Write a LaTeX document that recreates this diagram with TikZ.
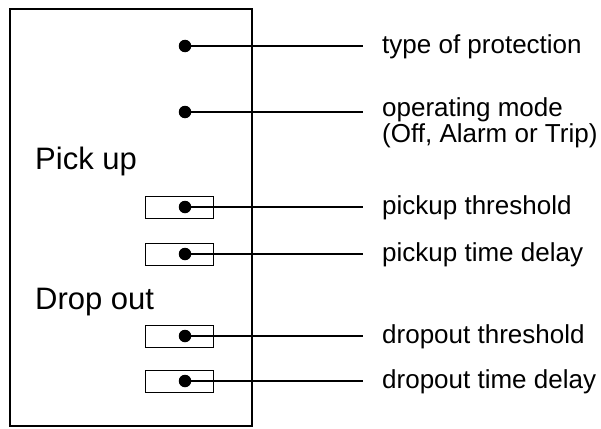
\documentclass[tikz,border=0pt]{standalone}
\usepackage{fontspec}
\setmainfont{Liberation Sans}
\usetikzlibrary{positioning}

\begin{document}
\begin{tikzpicture}[
  x=1pt,y=-1pt,
  every node/.style={font=\fontsize{26}{23.5}\selectfont},
  head/.style={anchor=base west,inner sep=0pt,font=\fontsize{31}{33}\selectfont},
  slot/.style={draw,line width=0.8pt,minimum width=68pt,minimum height=22pt,inner sep=0pt},
  pin/.style={circle,fill,inner sep=0pt,minimum size=12.5pt},
  lbl/.style={anchor=base west,align=left,inner xsep=19pt,inner ysep=0pt},
  wire/.style={line width=2pt}
]
  \useasboundingbox (0,0) rectangle (601,428);
  \draw[line width=2pt] (10,9) rectangle (252,426);
  \node[head] (pick) at (35,169) {Pick up};
  \node[head] (drop) at (35,309) {Drop out};
  % setting slots
  \node[slot] (s3) at (179,207) {};
  \node[slot] (s4) at (179,254) {};
  \node[slot] (s5) at (179,336) {};
  \node[slot] (s6) at (179,381) {};
  % pins
  \node[pin] (p1) at (185,46) {};
  \node[pin] (p2) at (185,112) {};
  \node[pin] (p3) at (185,207) {};
  \node[pin] (p4) at (185,254) {};
  \node[pin] (p5) at (185,336) {};
  \node[pin] (p6) at (185,381) {};
  % labels
  \node[lbl] (l1) at (363,53) {type of protection};
  \node[lbl] (l2) at (363,142) {operating mode\\(Off, Alarm or Trip)};
  \node[lbl] (l3) at (363,214) {pickup threshold};
  \node[lbl] (l4) at (363,261) {pickup time delay};
  \node[lbl] (l5) at (363,343) {dropout threshold};
  \node[lbl] (l6) at (363,388) {dropout time delay};
  \foreach \i in {1,...,6}
    \draw[wire] (p\i.center) -- (p\i -| l\i.west);
\end{tikzpicture}
\end{document}
